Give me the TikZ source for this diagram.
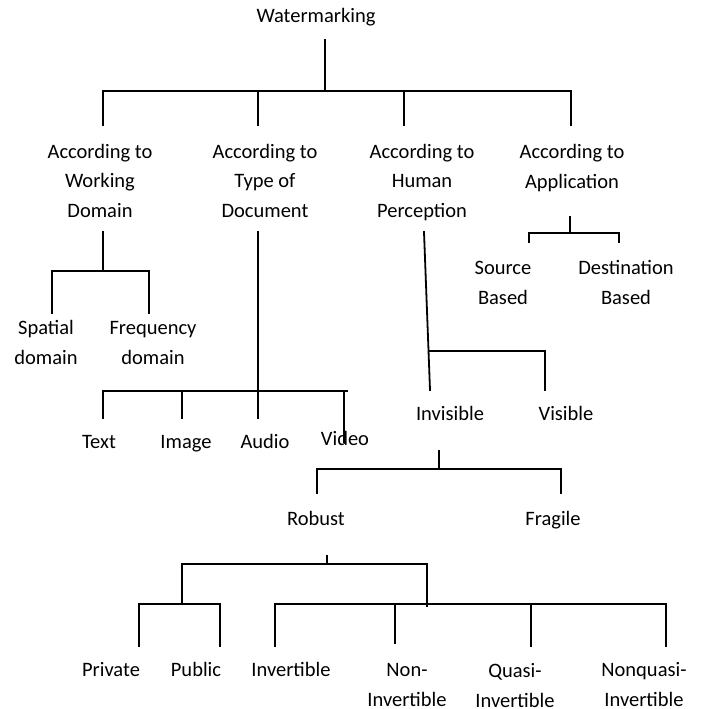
\documentclass[tikz,border=0pt]{standalone}
\usepackage{fontspec}
\setmainfont{Carlito}
\begin{document}
\begin{tikzpicture}[x=1pt,y=-1pt,
  lbl/.style={inner sep=0pt,align=center,font=\fontsize{20.5}{29.5}\selectfont},
  ln/.style={line width=1.8pt,line cap=rect}]
\useasboundingbox (0,0) rectangle (702,709);
% nodes
\node[lbl] (w) at (316,17) {\strut Watermarking};
\node[lbl] (wd) at (100,182) {\strut According to\\\strut Working\\\strut Domain};
\node[lbl] (td) at (265,182) {\strut According to\\\strut Type of\\\strut Document};
\node[lbl] (hp) at (422,182) {\strut According to\\\strut Human\\\strut Perception};
\node[lbl] (ap) at (572,167.5) {\strut According to\\\strut Application};
\node[lbl] (src) at (503,283.5) {\strut Source\\\strut Based};
\node[lbl] (dst) at (626,283.5) {\strut Destination\\\strut Based};
\node[lbl] (sp) at (46,343.5) {\strut Spatial\\\strut domain};
\node[lbl] (fr) at (153,343.5) {\strut Frequency\\\strut domain};
\node[lbl] (tx) at (99,443) {\strut Text};
\node[lbl] (im) at (186,443) {\strut Image};
\node[lbl] (au) at (265,443) {\strut Audio};
\node[lbl] (vi) at (345,440) {\strut Video};
\node[lbl] (inv) at (450,415) {\strut Invisible};
\node[lbl] (vis) at (566,415) {\strut Visible};
\node[lbl] (rob) at (316,520) {\strut Robust};
\node[lbl] (fra) at (553,520) {\strut Fragile};
\node[lbl] (pri) at (111,671) {\strut Private};
\node[lbl] (pub) at (196,671) {\strut Public};
\node[lbl] (ivt) at (291,671) {\strut Invertible};
\node[lbl] (non) at (407,685.5) {\strut Non-\\\strut Invertible};
\node[lbl] (qua) at (515,686.5) {\strut Quasi-\\\strut Invertible};
\node[lbl] (nqu) at (644,685.5) {\strut Nonquasi-\\\strut Invertible};
% root connectors
\draw[ln] (325,40) -- (325,91);
\draw[ln] (103,125) -- (103,91) -- (571,91) -- (571,125);
\draw[ln] (258,91) -- (258,125);
\draw[ln] (404,91) -- (404,125);
% working domain
\draw[ln] (103,232) -- (103,271);
\draw[ln] (52,313) -- (52,271) -- (149,271) -- (149,313);
% type of document
\draw[ln] (258,232) -- (258,418);
\draw[ln] (103,418) -- (103,391) -- (347,391);
\draw[ln] (182,391) -- (182,418);
\draw[ln] (344,391) -- (344,442);
% human perception
\draw[ln] (424,232) -- (430,390);
\draw[ln] (430,351) -- (545,351) -- (545,390);
% application
\draw[ln] (570,217) -- (570,233);
\draw[ln] (529,242) -- (529,233) -- (619,233) -- (619,242);
% invisible
\draw[ln] (439,451) -- (439,469);
\draw[ln] (317,493) -- (317,469) -- (561,469) -- (561,493);
% robust
\draw[ln] (327,556) -- (327,564);
\draw[ln] (182,604) -- (182,564) -- (427,564) -- (427,606);
\draw[ln] (139,646) -- (139,604) -- (220,604) -- (220,646);
\draw[ln] (275,646) -- (275,604) -- (666,604) -- (666,646);
\draw[ln] (395,604) -- (395,643);
\draw[ln] (531,604) -- (531,646);
\end{tikzpicture}
\end{document}
